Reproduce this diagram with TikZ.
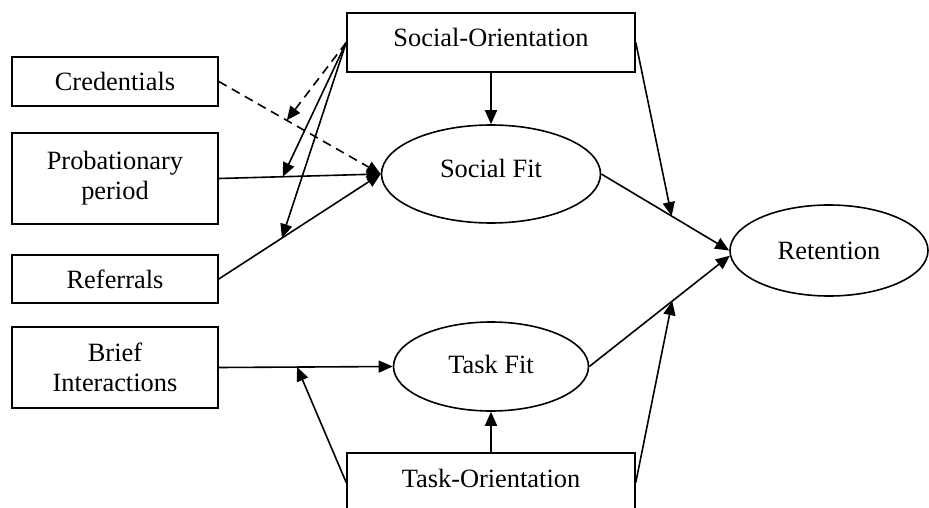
\documentclass[tikz,border=0pt]{standalone}
\usepackage{fontspec}
\setmainfont{Liberation Serif}
\usetikzlibrary{arrows.meta,shapes.geometric}
\begin{document}
\begin{tikzpicture}[x=1pt,y=-1pt,line width=1.6pt,
  every node/.style={font=\fontsize{26.4}{30}\selectfont,inner sep=0pt},
  box/.style={draw,rectangle,minimum width=206pt,align=center},
  orient/.style={draw,rectangle,minimum width=288pt,minimum height=59pt,
    text height=18pt,text depth=9pt},
  oval/.style={draw,ellipse},
  link/.style={-{Triangle[length=14pt,width=12pt]}},
  dlink/.style={link,dash pattern=on 9pt off 6pt}]
\useasboundingbox (0,0) rectangle (929,508);
\clip (0,0) rectangle (929,508);

% orientation boxes
\node[orient] (so) at (491,42.5) {Social-Orientation};
\node[orient] (to) at (491,482.5) {Task-Orientation};

% antecedent boxes
\node[box,minimum height=49pt] (cr) at (115,81.5) {Credentials};
\node[box,minimum height=91pt] (pp) at (115,178.5) {Probationary\\period};
\node[box,minimum height=48pt] (rf) at (115,279) {Referrals};
\node[box,minimum height=81pt] (bi) at (115,367.5) {Brief\\Interactions};

% fit and outcome ellipses
\node[oval,minimum width=219pt,minimum height=98pt,text height=18pt,text depth=12pt] (sf) at (491,174) {Social Fit};
\node[oval,minimum width=195pt,minimum height=89pt,text height=18pt,text depth=5pt] (tf) at (491,366.5) {Task Fit};
\node[oval,minimum width=198pt,minimum height=91pt] (rt) at (829,250.5) {Retention};

% main paths
\draw[link] (so.south) -- (sf.north);
\draw[link] (to.north) -- (tf.south);
\draw[link] (sf.east) -- (rt.west) coordinate[pos=0.55] (j1);
\draw[link] (tf.east) -- (rt.183) coordinate[pos=0.59] (j2);
\draw[link] (bi.east) -- (tf.west) coordinate[pos=0.45] (j3);
\draw[link] (pp.east) -- (sf.west) coordinate[pos=0.395] (j4);
\draw[link] (rf.east) -- (sf.west) coordinate[pos=0.39] (j5);
\draw[dlink] (cr.east) -- (sf.west) coordinate[pos=0.42] (j6);

% moderating paths
\draw[link] (so.east) -- (j1);
\draw[link] (to.east) -- (j2);
\draw[link] (to.west) -- (j3);
\draw[dlink] (so.west) -- (j6);
\draw[link] (so.west) -- (j4);
\draw[link] (so.west) -- (j5);
\end{tikzpicture}
\end{document}
